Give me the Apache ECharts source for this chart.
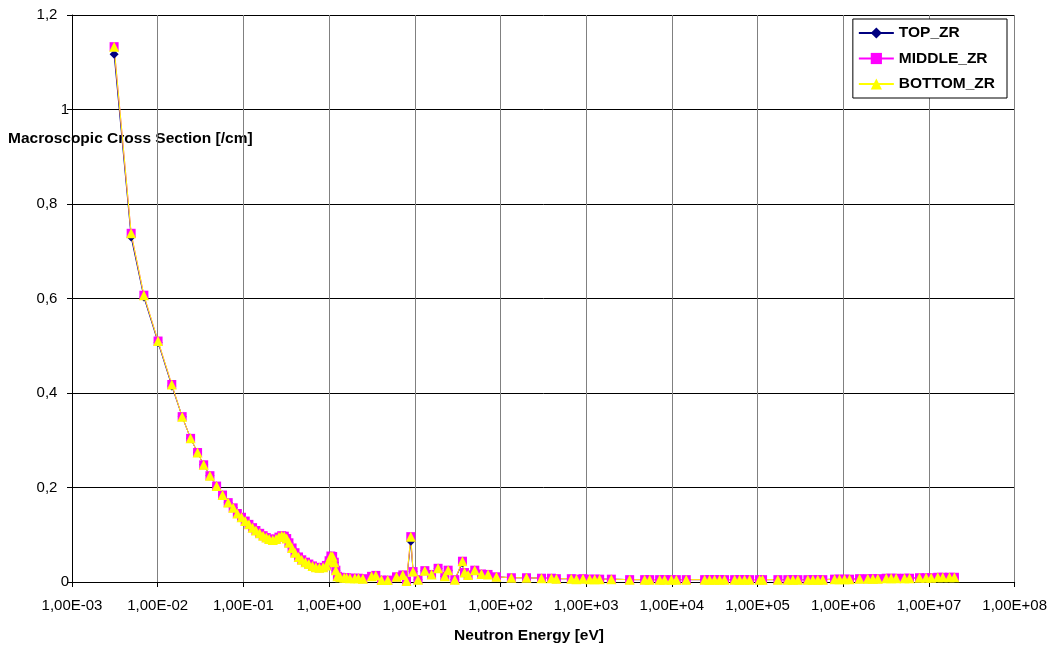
<!DOCTYPE html>
<html>
<head>
<meta charset="utf-8">
<script src="https://cdn.jsdelivr.net/npm/echarts@6/dist/echarts.min.js"></script>
<style>html,body{margin:0;padding:0;background:#fff}#c{width:1050px;height:650px}</style>
</head>
<body>
<div id="c"></div>
<script>
const energies = [
  0.0031, 0.0049, 0.0069, 0.0101, 0.0146, 0.0193, 0.0242, 0.0292, 0.0344, 0.0407,
  0.0487, 0.0571, 0.0665, 0.076, 0.085, 0.095, 0.105, 0.116, 0.128, 0.14,
  0.155, 0.17, 0.185, 0.2, 0.22, 0.24, 0.26, 0.28, 0.3, 0.32,
  0.34, 0.37, 0.4, 0.44, 0.48, 0.53, 0.58, 0.64, 0.7, 0.77,
  0.85, 0.93, 1.0, 1.05, 1.1, 1.15, 1.2, 1.25, 1.35, 1.5,
  1.6, 1.75, 2.0, 2.2, 2.48, 3.13, 3.51, 4.09, 4.84, 6.12,
  7.25, 8.0, 8.98, 9.55, 10.9, 13.1, 15.7, 18.7, 22.4, 24.5,
  29.3, 36.0, 38.0, 41.9, 50.1, 60.0, 71.6, 89.7, 134, 201,
  301, 393, 449, 671, 769, 918, 1099, 1256, 1436, 1967,
  3214, 4809, 5508, 7194, 8222, 9860, 11270, 14720, 24100, 27540,
  31480, 36060, 41210, 53950, 61660, 70470, 80720, 105400, 114300, 172600,
  225400, 258200, 295100, 386400, 441600, 504700, 576800, 790700, 903600, 1.035e6,
  1.183e6, 1.549e6, 1.932e6, 2.213e6, 2.529e6, 3.17e6, 3.622e6, 4.14e6, 5.176e6, 5.929e6,
  7.745e6, 9.268e6, 1.062e7, 1.268e7, 1.449e7, 1.734e7, 1.982e7
];
const topZr = [
  1.117, 0.730, 0.603, 0.507, 0.415, 0.350, 0.304, 0.274, 0.248, 0.225,
  0.203, 0.184, 0.168, 0.157, 0.145, 0.137, 0.129, 0.122, 0.115, 0.109,
  0.103, 0.098, 0.094, 0.091, 0.089, 0.091, 0.095, 0.098, 0.097, 0.092,
  0.083, 0.072, 0.062, 0.053, 0.047, 0.042, 0.038, 0.034, 0.031, 0.030,
  0.031, 0.035, 0.045, 0.055, 0.054, 0.042, 0.025, 0.012, 0.010, 0.009,
  0.009, 0.008, 0.008, 0.008, 0.007, 0.012, 0.014, 0.004, 0.004, 0.011,
  0.015, 0.002, 0.086, 0.022, 0.005, 0.024, 0.016, 0.029, 0.012, 0.025,
  0.005, 0.040, 0.020, 0.015, 0.025, 0.017, 0.016, 0.011, 0.009, 0.009,
  0.008, 0.008, 0.007, 0.007, 0.006, 0.007, 0.006, 0.006, 0.006, 0.006,
  0.005, 0.005, 0.005, 0.005, 0.005, 0.005, 0.005, 0.005, 0.005, 0.005,
  0.005, 0.005, 0.005, 0.005, 0.005, 0.005, 0.005, 0.005, 0.005, 0.005,
  0.005, 0.005, 0.005, 0.005, 0.005, 0.005, 0.005, 0.006, 0.006, 0.006,
  0.006, 0.007, 0.007, 0.007, 0.007, 0.008, 0.008, 0.008, 0.008, 0.008,
  0.009, 0.009, 0.009, 0.010, 0.010, 0.010, 0.010
];
const middleZr = [
  1.133, 0.738, 0.607, 0.510, 0.418, 0.350, 0.304, 0.274, 0.248, 0.225,
  0.203, 0.184, 0.168, 0.157, 0.145, 0.137, 0.129, 0.122, 0.115, 0.109,
  0.103, 0.098, 0.094, 0.091, 0.089, 0.091, 0.095, 0.098, 0.097, 0.092,
  0.083, 0.072, 0.062, 0.053, 0.047, 0.042, 0.038, 0.034, 0.031, 0.030,
  0.031, 0.035, 0.045, 0.055, 0.054, 0.042, 0.025, 0.012, 0.010, 0.009,
  0.009, 0.008, 0.008, 0.008, 0.007, 0.012, 0.014, 0.004, 0.004, 0.011,
  0.015, 0.002, 0.096, 0.022, 0.005, 0.024, 0.016, 0.029, 0.012, 0.025,
  0.005, 0.044, 0.020, 0.015, 0.025, 0.017, 0.016, 0.011, 0.009, 0.009,
  0.008, 0.008, 0.007, 0.007, 0.006, 0.007, 0.006, 0.006, 0.006, 0.006,
  0.005, 0.005, 0.005, 0.005, 0.005, 0.005, 0.005, 0.005, 0.005, 0.005,
  0.005, 0.005, 0.005, 0.005, 0.005, 0.005, 0.005, 0.005, 0.005, 0.005,
  0.005, 0.005, 0.005, 0.005, 0.005, 0.005, 0.005, 0.006, 0.006, 0.006,
  0.006, 0.007, 0.007, 0.007, 0.007, 0.008, 0.008, 0.008, 0.008, 0.008,
  0.009, 0.009, 0.009, 0.010, 0.010, 0.010, 0.010
];
const bottomZr = [
  1.133, 0.738, 0.607, 0.510, 0.418, 0.350, 0.304, 0.274, 0.248, 0.225,
  0.203, 0.184, 0.168, 0.157, 0.145, 0.137, 0.129, 0.122, 0.115, 0.109,
  0.103, 0.098, 0.094, 0.091, 0.089, 0.091, 0.095, 0.098, 0.097, 0.092,
  0.083, 0.072, 0.062, 0.053, 0.047, 0.042, 0.038, 0.034, 0.031, 0.030,
  0.031, 0.035, 0.045, 0.055, 0.054, 0.042, 0.025, 0.012, 0.010, 0.009,
  0.009, 0.008, 0.008, 0.008, 0.007, 0.012, 0.014, 0.004, 0.004, 0.011,
  0.015, 0.002, 0.096, 0.022, 0.005, 0.024, 0.016, 0.029, 0.012, 0.025,
  0.005, 0.044, 0.020, 0.015, 0.025, 0.017, 0.016, 0.011, 0.009, 0.009,
  0.008, 0.008, 0.007, 0.007, 0.006, 0.007, 0.006, 0.006, 0.006, 0.006,
  0.005, 0.005, 0.005, 0.005, 0.005, 0.005, 0.005, 0.005, 0.005, 0.005,
  0.005, 0.005, 0.005, 0.005, 0.005, 0.005, 0.005, 0.005, 0.005, 0.005,
  0.005, 0.005, 0.005, 0.005, 0.005, 0.005, 0.005, 0.006, 0.006, 0.006,
  0.006, 0.007, 0.007, 0.007, 0.007, 0.008, 0.008, 0.008, 0.008, 0.008,
  0.009, 0.009, 0.009, 0.010, 0.010, 0.010, 0.010
];
const xTickLabels = ['1,00E-03','1,00E-02','1,00E-01','1,00E+00','1,00E+01','1,00E+02','1,00E+03','1,00E+04','1,00E+05','1,00E+06','1,00E+07','1,00E+08'];
const yTickLabels = ['0','0,2','0,4','0,6','0,8','1','1,2'];
const seriesNames = ['TOP_ZR','MIDDLE_ZR','BOTTOM_ZR'];

function pairs(vals){ return energies.map((e,i)=>[e, vals[i]]); }

const chart = echarts.init(document.getElementById('c'), null, {renderer:'canvas'});
const FONT = '"Liberation Sans", Arial, sans-serif';
chart.setOption({
  animation: false,
  backgroundColor: '#fff',
  textStyle: {fontFamily: FONT},
  grid: {left: 72, right: 35, top: 15, bottom: 68, containLabel: false},
  xAxis: {
    type: 'log', logBase: 10, min: 1e-3, max: 1e8, interval: 1,
    axisLine: {show: true, lineStyle: {color: '#000', width: 1}},
    axisTick: {show: true, inside: false, length: 5, interval: 0, lineStyle: {color: '#000'}},
    axisLabel: {color: '#000', fontSize: 15, fontFamily: FONT, margin: 16, interval: 0,
      formatter: v => xTickLabels[Math.round(Math.log10(v)) + 3]},
    splitLine: {show: true, interval: 0, lineStyle: {color: '#808080', width: 1}},
    minorTick: {show: false}
  },
  yAxis: {
    type: 'value', min: 0, max: 1.2, interval: 0.2,
    axisLine: {show: true, lineStyle: {color: '#000', width: 1}},
    axisTick: {show: true, inside: false, length: 5, lineStyle: {color: '#000'}},
    axisLabel: {color: '#000', fontSize: 15, fontFamily: FONT, margin: 25, align: 'center',
      formatter: v => {
        const t = yTickLabels[Math.round(v * 5)];
        return t.length === 1 ? '{s|' + t + '}' : t;
      },
      rich: {s: {fontSize: 15, fontFamily: FONT, color: '#000', padding: [0, 0, 0, 36]}}
    },
    splitLine: {show: true, lineStyle: {color: '#000', width: 1}}
  },
  legend: {
    orient: 'vertical', right: 43, top: 19,
    backgroundColor: '#fff', borderColor: '#000', borderWidth: 1,
    padding: [6, 12, 6, 5], itemWidth: 35, itemHeight: 14, itemGap: 9.5,
    textStyle: {fontSize: 15.5, fontWeight: 'bold', color: '#000', fontFamily: FONT},
    data: seriesNames
  },
  graphic: [
    {type: 'text', left: 8, top: 131, style: {text: 'Macroscopic Cross Section [/cm]', font: 'bold 15.5px ' + FONT, fill: '#000'}},
    {type: 'text', x: 529, y: 636, style: {text: 'Neutron Energy [eV]', font: 'bold 15.5px ' + FONT, fill: '#000', textAlign: 'center', textVerticalAlign: 'middle'}}
  ],
  series: [
    {name: seriesNames[0], type: 'line', data: pairs(topZr), symbol: 'diamond', symbolSize: 9,
     lineStyle: {color: '#000080', width: 1}, itemStyle: {color: '#000080'}},
    {name: seriesNames[1], type: 'line', data: pairs(middleZr), symbol: 'rect', symbolSize: 9,
     lineStyle: {color: '#FF00FF', width: 1}, itemStyle: {color: '#FF00FF'}},
    {name: seriesNames[2], type: 'line', data: pairs(bottomZr), symbol: 'triangle', symbolSize: 10,
     lineStyle: {color: '#FFFF00', width: 1}, itemStyle: {color: '#FFFF00'}}
  ]
});
</script>
</body>
</html>
